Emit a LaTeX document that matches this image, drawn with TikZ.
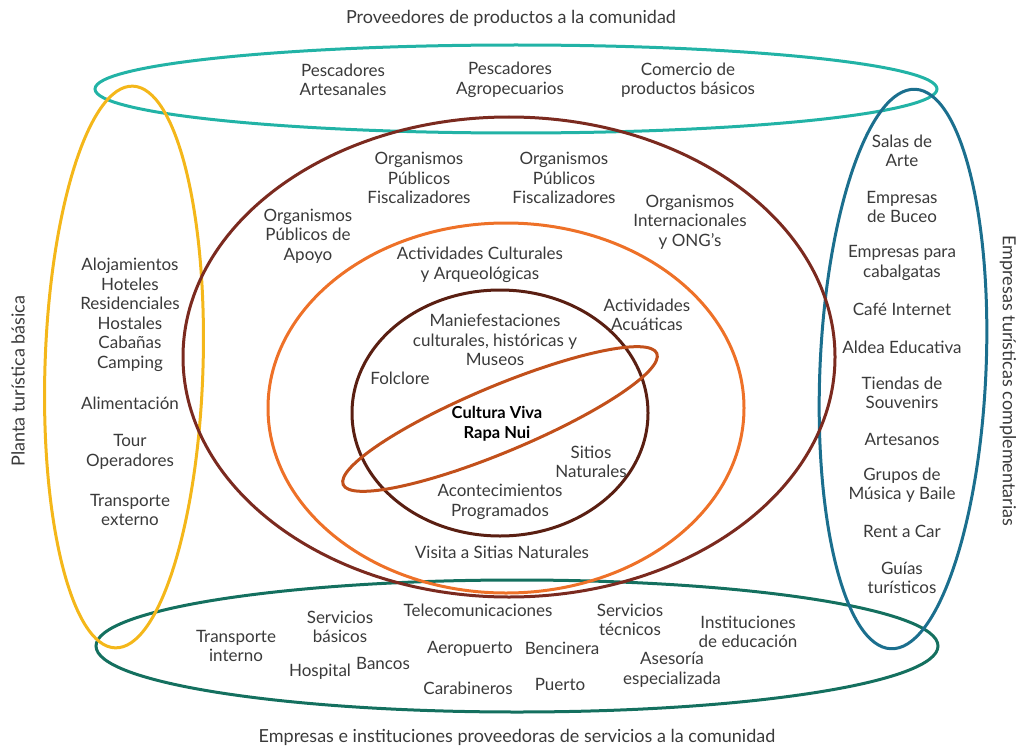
\documentclass[tikz,border=0pt]{standalone}
\usepackage{fontspec}
\setmainfont{Lato}
\usetikzlibrary{positioning}

\definecolor{ringteal}{HTML}{22B3A6}
\definecolor{ringyellow}{HTML}{F4B71A}
\definecolor{ringblue}{HTML}{1B6F8E}
\definecolor{ringgreen}{HTML}{14705F}
\definecolor{ringbrown}{HTML}{7B2A1F}
\definecolor{ringorange}{HTML}{EE7128}
\definecolor{ringdark}{HTML}{5A1F12}
\definecolor{ringrust}{HTML}{C2501B}
\definecolor{txtgray}{HTML}{3A3A3A}

\begin{document}
\begin{tikzpicture}[x=1pt, y=-1pt,
    ring/.style={line width=3pt},
    ring_prov/.style={ring, ringteal}, ring_planta/.style={ring, ringyellow},
    ring_compl/.style={ring, ringblue}, ring_serv/.style={ring, ringgreen},
    ring_org/.style={ring, ringbrown}, ring_act/.style={ring, ringorange},
    ring_cult/.style={ring, ringdark}, ring_core/.style={ring, ringrust},
    item/.style={align=center, inner sep=0pt, text=txtgray,
        font=\fontsize{17}{19.5}\selectfont},
    side_label/.style={item, font=\fontsize{18}{20}\selectfont},
    core_label/.style={align=center, inner sep=0pt, text=black,
        font=\fontsize{16.5}{20}\selectfont\bfseries}
]
    \useasboundingbox (0,0) rectangle (1022,749);
    % Anillos exteriores
    \draw[ring_prov] (516,89) ellipse [x radius=421, y radius=44];
    \draw[ring_serv] (517,646) ellipse [x radius=421, y radius=66];
    \draw[ring_planta, rotate around={-1.8:(124,367)}] (124,367) ellipse [x radius=79, y radius=281];
    \draw[ring_compl, rotate around={-2.5:(903,369)}] (903,369) ellipse [x radius=83, y radius=280];
    % Anillos centrales
    \draw[ring_org] (509,357) ellipse [x radius=326, y radius=240];
    \draw[ring_act] (506,408) ellipse [x radius=238, y radius=185];
    \draw[ring_cult] (500,413) ellipse [x radius=148, y radius=123];
    \draw[ring_core, rotate around={22.7:(500,419)}] (500,419) ellipse [x radius=170, y radius=33];

    % Titulos
    \node[side_label] (t_prov) at (511,18) {Proveedores de productos a la comunidad};
    \node[side_label] (t_serv) at (517,737) {Empresas e instituciones proveedoras de servicios a la comunidad};
    \node[side_label, rotate=90] (t_planta) at (18,381) {Planta turística básica};
    \node[side_label, rotate=-90] (t_compl) at (1008,381) {Empresas turísticas complementarias};

    % Proveedores de productos
    \node[item] (p_art) at (343,80) {Pescadores\\Artesanales};
    \node[item] (p_agro) at (510,80) {Pescadores\\Agropecuarios};
    \node[item] (p_com) at (688,80) {Comercio de\\productos básicos};

    % Organismos
    \node[item] (o_fisc1) at (419,178) {Organismos\\Públicos\\Fiscalizadores};
    \node[item] (o_fisc2) at (564,178) {Organismos\\Públicos\\Fiscalizadores};
    \node[item] (o_apoyo) at (308,236) {Organismos\\Públicos de\\Apoyo};
    \node[item] (o_ong) at (690,222) {Organismos\\Internacionales\\y ONG's};

    % Actividades
    \node[item] (a_cult) at (480,265) {Actividades Culturales\\y Arqueológicas};
    \node[item] (a_acua) at (647,315) {Actividades\\Acuáticas};
    \node[item] (a_visita) at (502,552) {Visita a Sitias Naturales};

    % Cultura viva
    \node[item] (c_manif) at (495,340) {Maniefestaciones\\culturales, históricas y\\Museos};
    \node[item] (c_folk) at (400,378) {Folclore};
    \node[core_label] (c_core) at (497,424) {Cultura Viva\\Rapa Nui};
    \node[item] (c_sitios) at (591,462) {Sitios\\Naturales};
    \node[item] (c_acont) at (500,502) {Acontecimientos\\Programados};

    % Planta turistica basica
    \node[item] (b_aloj) at (130,315) {Alojamientos\\Hoteles\\Residenciales\\Hostales\\Cabañas\\Camping};
    \node[item] (b_alim) at (130,403) {Alimentación};
    \node[item] (b_tour) at (130,452) {Tour\\Operadores};
    \node[item] (b_trans) at (130,510) {Transporte\\externo};

    % Empresas complementarias
    \node[item] (e_salas) at (902,151) {Salas de\\Arte};
    \node[item] (e_buceo) at (902,207) {Empresas\\de Buceo};
    \node[item] (e_cabal) at (902,263) {Empresas para\\cabalgatas};
    \node[item] (e_cafe) at (902,309) {Café Internet};
    \node[item] (e_aldea) at (902,347) {Aldea Educativa};
    \node[item] (e_tiendas) at (902,393) {Tiendas de\\Souvenirs};
    \node[item] (e_artes) at (902,439) {Artesanos};
    \node[item] (e_musica) at (902,485) {Grupos de\\Música y Baile};
    \node[item] (e_rent) at (902,531) {Rent a Car};
    \node[item] (e_guias) at (902,578) {Guías\\turísticos};

    % Servicios a la comunidad
    \node[item] (s_trans) at (236,646) {Transporte\\interno};
    \node[item] (s_basic) at (340,627) {Servicios\\básicos};
    \node[item] (s_tele) at (478,610) {Telecomunicaciones};
    \node[item] (s_tecn) at (630,620) {Servicios\\técnicos};
    \node[item] (s_educ) at (748,632) {Instituciones\\de educación};
    \node[item] (s_hosp) at (320,672) {Hospital};
    \node[item] (s_banc) at (383,663) {Bancos};
    \node[item] (s_aero) at (470,649) {Aeropuerto};
    \node[item] (s_benc) at (562,648) {Bencinera};
    \node[item] (s_ases) at (672,670) {Asesoría\\especializada};
    \node[item] (s_carab) at (468,688) {Carabineros};
    \node[item] (s_puerto) at (560,684) {Puerto};
\end{tikzpicture}
\end{document}
